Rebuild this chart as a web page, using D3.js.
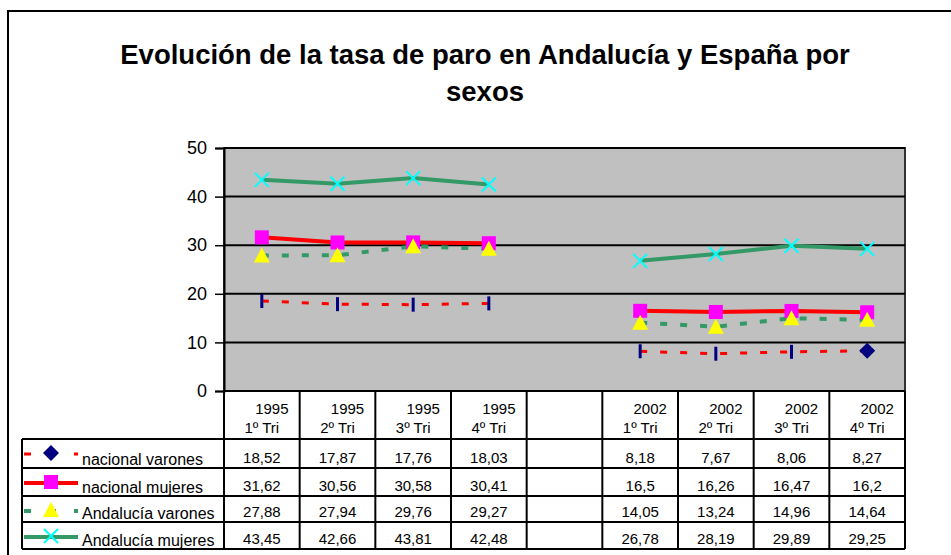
<!DOCTYPE html>
<html>
<head>
<meta charset="utf-8">
<script src="https://cdn.jsdelivr.net/npm/d3@7"></script>
<style>
  body { margin: 0; background: #fff; }
  text { font-family: "Liberation Sans", Arial, sans-serif; }
</style>
</head>
<body>
<div id="chart"></div>
<script>
// categories (the empty one is the gap between 1995 and 2002)
var years = ["1995", "1995", "1995", "1995", "", "2002", "2002", "2002", "2002"];
var quarters = ["1º Tri", "2º Tri", "3º Tri", "4º Tri", "", "1º Tri", "2º Tri", "3º Tri", "4º Tri"];

var nacionalVarones = [18.52, 17.87, 17.76, 18.03, null, 8.18, 7.67, 8.06, 8.27];
var nacionalMujeres = [31.62, 30.56, 30.58, 30.41, null, 16.5, 16.26, 16.47, 16.2];
var andaluciaVarones = [27.88, 27.94, 29.76, 29.27, null, 14.05, 13.24, 14.96, 14.64];
var andaluciaMujeres = [43.45, 42.66, 43.81, 42.48, null, 26.78, 28.19, 29.89, 29.25];

var yTicks = [0, 10, 20, 30, 40, 50];

var series = [
  { name: "nacional varones", values: nacionalVarones, color: "#FF0000", width: 3, dash: "7,13", marker: "bar", mcolor: "#000080" },
  { name: "nacional mujeres", values: nacionalMujeres, color: "#FF0000", width: 4, dash: null, marker: "square", mcolor: "#FF00FF" },
  { name: "Andalucía varones", values: andaluciaVarones, color: "#339966", width: 4, dash: "7,13", marker: "triangle", mcolor: "#FFFF00" },
  { name: "Andalucía mujeres", values: andaluciaMujeres, color: "#339966", width: 4, dash: null, marker: "x", mcolor: "#00FFFF" }
];

var width = 951, height = 555;
var plot = { left: 224, right: 905, top: 148, bottom: 391 };
var tableLeft = 22, rowTop = 439, rowH = [29, 28, 26, 27];

var svg = d3.select("#chart").append("svg")
    .attr("width", width)
    .attr("height", height);

// chart border
svg.append("rect")
    .attr("x", 8).attr("y", 11)
    .attr("width", 960).attr("height", 560)
    .attr("fill", "#fff")
    .attr("stroke", "#000")
    .attr("stroke-width", 2);

// title
var title = svg.append("text")
    .attr("text-anchor", "middle")
    .style("font-size", "27.5px")
    .style("font-weight", "bold");
title.append("tspan").attr("x", 485).attr("y", 64)
    .text("Evolución de la tasa de paro en Andalucía y España por");
title.append("tspan").attr("x", 485).attr("y", 101).text("sexos");

var idx = d3.range(years.length);

var x = d3.scaleBand()
    .domain(idx)
    .range([plot.left, plot.right]);

var y = d3.scaleLinear()
    .domain([0, 50])
    .range([plot.bottom, plot.top]);

// plot area
svg.append("rect")
    .attr("x", plot.left).attr("y", plot.top)
    .attr("width", plot.right - plot.left)
    .attr("height", plot.bottom - plot.top)
    .attr("fill", "#C0C0C0")
    .attr("stroke", "#333")
    .attr("stroke-width", 2);

// gridlines
svg.append("g")
  .selectAll("line")
  .data(yTicks)
  .enter().append("line")
    .attr("x1", plot.left).attr("x2", plot.right)
    .attr("y1", function(d) { return y(d); })
    .attr("y2", function(d) { return y(d); })
    .attr("stroke", "#000")
    .attr("stroke-width", 2);

// y axis
var yAxis = svg.append("g")
    .attr("transform", "translate(" + plot.left + ",0)")
    .call(d3.axisLeft(y).tickValues(yTicks).tickSize(9).tickPadding(8));
yAxis.select(".domain").attr("stroke", "#000").attr("stroke-width", 2);
yAxis.selectAll(".tick line").attr("stroke", "#000").attr("stroke-width", 1.5);
yAxis.selectAll(".tick text")
    .style("font-size", "18px")
    .style("font-family", "'Liberation Sans', Arial, sans-serif")
    .attr("fill", "#000");

// lines
var line = d3.line()
    .defined(function(d) { return d != null; })
    .x(function(d, i) { return x(i) + x.bandwidth() / 2; })
    .y(function(d) { return y(d); });

svg.append("g").selectAll("path")
  .data(series)
  .enter().append("path")
    .attr("d", function(s) { return line(s.values); })
    .attr("fill", "none")
    .attr("stroke", function(s) { return s.color; })
    .attr("stroke-width", function(s) { return s.width; })
    .attr("stroke-dasharray", function(s) { return s.dash; });

function drawMarker(g, s, cx, cy, isLast) {
  if (s.marker === "bar") {
    if (isLast) {
      g.append("path")
          .attr("d", "M" + cx + "," + (cy - 8) + "L" + (cx + 8) + "," + cy +
                "L" + cx + "," + (cy + 8) + "L" + (cx - 8) + "," + cy + "Z")
          .attr("fill", s.mcolor);
    } else {
      g.append("rect")
          .attr("x", cx - 1.5).attr("y", cy - 7)
          .attr("width", 3).attr("height", 14)
          .attr("fill", s.mcolor);
    }
  } else if (s.marker === "square") {
    g.append("rect")
        .attr("x", cx - 7).attr("y", cy - 7)
        .attr("width", 14).attr("height", 14)
        .attr("fill", s.mcolor);
  } else if (s.marker === "triangle") {
    g.append("path")
        .attr("d", "M" + cx + "," + (cy - 8) + "L" + (cx + 8) + "," + (cy + 7) +
              "L" + (cx - 8) + "," + (cy + 7) + "Z")
        .attr("fill", s.mcolor);
  } else if (s.marker === "x") {
    g.append("path")
        .attr("d", "M" + (cx - 7) + "," + (cy - 7) + "L" + (cx + 7) + "," + (cy + 7) +
              "M" + (cx + 7) + "," + (cy - 7) + "L" + (cx - 7) + "," + (cy + 7))
        .attr("stroke", s.mcolor)
        .attr("stroke-width", 2);
  }
}

// markers
series.forEach(function(s) {
  var g = svg.append("g");
  s.values.forEach(function(v, i) {
    if (v == null) return;
    drawMarker(g, s, x(i) + x.bandwidth() / 2, y(v), i === s.values.length - 1);
  });
});

// data table
var table = svg.append("g").attr("stroke", "#000").attr("stroke-width", 2);
var rowY = [rowTop];
rowH.forEach(function(h, i) { rowY.push(rowY[i] + h); });
var tableBottom = rowY[rowY.length - 1];

// vertical column lines
idx.concat([idx.length]).forEach(function(i) {
  var xx = i < idx.length ? x(i) : plot.right;
  table.append("line")
      .attr("x1", xx).attr("x2", xx)
      .attr("y1", plot.bottom).attr("y2", tableBottom);
});
table.append("line")
    .attr("x1", tableLeft).attr("x2", tableLeft)
    .attr("y1", rowTop).attr("y2", tableBottom);
rowY.forEach(function(yy) {
  table.append("line")
      .attr("x1", tableLeft).attr("x2", plot.right)
      .attr("y1", yy).attr("y2", yy);
});

// header labels
var header = svg.append("g").style("font-size", "15px");
idx.forEach(function(i) {
  var cx = x(i) + x.bandwidth() / 2;
  header.append("text").attr("x", cx + 10).attr("y", 414)
      .attr("text-anchor", "middle").text(years[i]);
  header.append("text").attr("x", cx).attr("y", 433)
      .attr("text-anchor", "middle").text(quarters[i]);
});

// values and legend keys
series.forEach(function(s, r) {
  var top = rowY[r], bottom = rowY[r + 1];
  var g = svg.append("g").style("font-size", "15px");
  s.values.forEach(function(v, i) {
    if (v == null) return;
    g.append("text")
        .attr("x", x(i) + x.bandwidth() / 2)
        .attr("y", bottom - 5)
        .attr("text-anchor", "middle")
        .text(String(v).replace(".", ","));
  });
  var ky = top + 15;
  g.append("line")
      .attr("x1", tableLeft + 2).attr("x2", 78)
      .attr("y1", ky).attr("y2", ky)
      .attr("stroke", s.color)
      .attr("stroke-width", s.width)
      .attr("stroke-dasharray", s.dash ? "7,18" : null);
  drawMarker(g, s, 51, ky - 1, true);
  g.append("text")
      .attr("x", 82).attr("y", bottom - 3)
      .style("font-size", "16px")
      .text(s.name);
});
</script>
</body>
</html>
